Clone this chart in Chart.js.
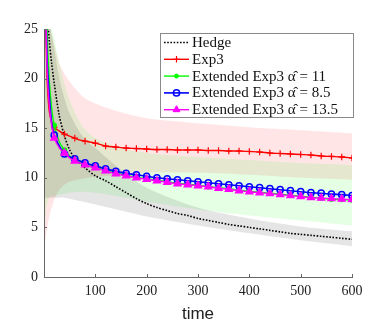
<!DOCTYPE html>
<html>
<head>
<meta charset="utf-8">
<script src="https://cdn.jsdelivr.net/npm/chart.js@4.4.1/dist/chart.umd.min.js"></script>
<style>
  html, body { margin: 0; padding: 0; background: #fff; }
  #wrap { width: 383px; height: 333px; }
</style>
</head>
<body>
<div id="wrap"><canvas id="regretChart" width="383" height="333"></canvas></div>
<script>
// time grid for the mean curves (markers every 20 steps)
const times = [1, 3, 6, 10, 15, 20, 30, 40, 50, 60, 70, 80, 100, 120, 140, 160, 180, 200, 220, 240,
  260, 280, 300, 320, 340, 360, 380, 400, 420, 440, 460, 480, 500, 520, 540, 560, 580, 600];

const hedgeMean = [50, 34, 27, 24, 21.5, 19.5, 16.2, 14.2, 12.8, 12.0, 11.5, 11.0, 10.2, 9.7, 9.1, 8.5, 7.9, 7.4, 7.0, 6.7,
  6.4, 6.2, 5.9, 5.7, 5.5, 5.3, 5.15, 5.0, 4.85, 4.7, 4.55, 4.4, 4.3, 4.2, 4.1, 4.0, 3.9, 3.8];
const exp3Mean = [40, 28, 20, 16.8, 15.6, 15.1, 14.7, 14.4, 14.2, 14.0, 13.8, 13.7, 13.5, 13.2, 13.1, 13.0, 12.95, 12.9, 12.85, 12.85,
  12.8, 12.8, 12.8, 12.75, 12.75, 12.7, 12.7, 12.65, 12.6, 12.5, 12.45, 12.4, 12.35, 12.3, 12.2, 12.15, 12.1, 12.0];
const ext11Mean = [50, 34, 25, 20, 17, 15.3, 13.6, 12.8, 12.2, 11.8, 11.55, 11.35, 11.05, 10.75, 10.45, 10.25, 10.05, 9.9, 9.75, 9.6,
  9.45, 9.35, 9.25, 9.1, 9.0, 8.9, 8.75, 8.65, 8.55, 8.45, 8.35, 8.25, 8.15, 8.05, 7.95, 7.85, 7.8, 7.75];
const ext85Mean = [45, 30, 22, 18.5, 15.5, 14.3, 13.2, 12.4, 12.1, 11.9, 11.7, 11.5, 11.2, 10.9, 10.65, 10.45, 10.3, 10.15, 10.0, 9.9,
  9.8, 9.7, 9.6, 9.5, 9.4, 9.3, 9.2, 9.1, 9.0, 8.9, 8.8, 8.7, 8.6, 8.5, 8.45, 8.35, 8.3, 8.2];
const ext135Mean = [45, 30, 21, 17.5, 15.2, 14.0, 13.0, 12.5, 12.0, 11.7, 11.5, 11.3, 11.0, 10.7, 10.4, 10.2, 10.0, 9.85, 9.7, 9.55,
  9.4, 9.3, 9.2, 9.1, 8.95, 8.85, 8.7, 8.6, 8.5, 8.4, 8.3, 8.2, 8.1, 8.0, 7.95, 7.9, 7.85, 7.8];

// time grid for the shaded spread bands
const bandTimes = [1, 5, 10, 20, 30, 40, 50, 75, 100, 150, 200, 300, 400, 500, 600];
const exp3Upper  = [30, 27, 25.5, 23.5, 21.5, 20.5, 19.7, 18.2, 17.5, 16.6, 16.0, 15.5, 15.1, 14.8, 14.5];
const exp3Lower  = [3, 4.5, 6.0, 7.8, 8.8, 9.3, 9.6, 9.9, 10.1, 10.3, 10.5, 10.5, 10.3, 10.0, 9.8];
const extUpper   = [30, 28, 26, 24, 21.5, 19.5, 17.8, 15.2, 14.0, 13.0, 12.5, 12.1, 11.8, 11.5, 11.3];
const extLower   = [5, 7, 8, 8.2, 8.3, 8.4, 8.5, 8.6, 8.5, 8.1, 7.6, 6.8, 6.2, 5.7, 5.2];
const hedgeUpper = [30, 28, 26, 23, 20, 18, 16.5, 14.2, 13.0, 10.8, 9.0, 7.0, 5.9, 5.1, 4.6];
const hedgeLower = [8, 8, 8, 8, 8, 8.0, 7.9, 7.6, 7.3, 6.7, 6.1, 5.2, 4.4, 3.7, 3.1];

const xTicks = [100, 200, 300, 400, 500, 600];
const legendLabels = ['Hedge', 'Exp3', 'Extended Exp3 \u03B1\u0302 = 11', 'Extended Exp3 \u03B1\u0302 = 8.5', 'Extended Exp3 \u03B1\u0302 = 13.5'];

const serif = '"Liberation Serif", "DejaVu Serif", serif';

function pts(xs, ys) {
  return xs.map((x, i) => ({ x: x, y: ys[i] }));
}

// marker only on every 20th step
function markerEvery(r) {
  return ctx => (times[ctx.dataIndex] % 20 === 0 ? r : 0);
}

function band(xs, up, lo, color) {
  return [
    { data: pts(xs, up), borderWidth: 0, pointRadius: 0, fill: '+1', backgroundColor: color, order: 10 },
    { data: pts(xs, lo), borderWidth: 0, pointRadius: 0, fill: false, order: 10 }
  ];
}

const lineSets = [
  { label: legendLabels[0], data: pts(times, hedgeMean), borderColor: '#000', borderWidth: 1.6, borderDash: [1.6, 1.6],
    pointRadius: 0, fill: false, order: 5 },
  { label: legendLabels[1], data: pts(times, exp3Mean), borderColor: '#ff0000', borderWidth: 1.4,
    pointStyle: 'cross', pointRadius: markerEvery(3.3), pointBorderColor: '#ff0000', pointBorderWidth: 1.2, fill: false, order: 4 },
  { label: legendLabels[2], data: pts(times, ext11Mean), borderColor: '#00ff00', borderWidth: 1.4,
    pointStyle: 'circle', pointRadius: markerEvery(2), pointBackgroundColor: '#00ff00', pointBorderColor: '#00ff00', fill: false, order: 3 },
  { label: legendLabels[3], data: pts(times, ext85Mean), borderColor: '#0000ff', borderWidth: 1.6,
    pointStyle: 'circle', pointRadius: markerEvery(3.1), pointBackgroundColor: 'rgba(0,0,0,0)', pointBorderColor: '#0000ff', pointBorderWidth: 1.5, fill: false, order: 2 },
  { label: legendLabels[4], data: pts(times, ext135Mean), borderColor: '#ff00ff', borderWidth: 1.4,
    pointStyle: 'triangle', pointRadius: markerEvery(4), pointBackgroundColor: '#ff00ff', pointBorderColor: '#ff00ff', fill: false, order: 1 }
];

const datasets = [].concat(
  band(bandTimes, hedgeUpper, hedgeLower, 'rgba(0,0,0,0.1)'),
  band(bandTimes, extUpper, extLower, 'rgba(0,255,0,0.1)'),
  band(bandTimes, exp3Upper, exp3Lower, 'rgba(255,0,0,0.1)'),
  lineSets
);

// legend box drawn inside the plot, top right
const boxLegend = {
  id: 'boxLegend',
  afterDatasetsDraw(chart) {
    const ctx = chart.ctx;
    const x0 = 160.5, y0 = 33.5, w = 193, h = 84;
    ctx.save();
    ctx.fillStyle = '#fff';
    ctx.fillRect(x0, y0, w, h);
    ctx.strokeStyle = '#8a8a8a';
    ctx.lineWidth = 1;
    ctx.strokeRect(x0, y0, w, h);
    // size the text so the longest entry fills the box like the original
    ctx.font = '15px ' + serif;
    const longest = ctx.measureText(legendLabels[4]).width;
    const size = Math.min(16.5, 15 * 146 / longest);
    ctx.font = size.toFixed(2) + 'px ' + serif;
    ctx.textBaseline = 'middle';
    ctx.fillStyle = '#111';
    lineSets.forEach((ds, i) => {
      const y = 42.5 + i * 16.8;
      ctx.save();
      ctx.strokeStyle = ds.borderColor;
      ctx.lineWidth = ds.borderWidth;
      ctx.setLineDash(ds.borderDash || []);
      ctx.beginPath();
      ctx.moveTo(164, y);
      ctx.lineTo(189, y);
      ctx.stroke();
      ctx.restore();
      const r = typeof ds.pointRadius === 'function' ? ds.pointRadius({ dataIndex: 5 }) : 0;
      if (r > 0) {
        ctx.save();
        ctx.strokeStyle = ds.pointBorderColor;
        ctx.fillStyle = ds.pointBackgroundColor || ds.pointBorderColor;
        ctx.lineWidth = ds.pointBorderWidth || 1;
        Chart.helpers.drawPoint(ctx, { pointStyle: ds.pointStyle, radius: r, borderWidth: ds.pointBorderWidth || 1, rotation: 0 }, 176.5, y);
        ctx.restore();
      }
      ctx.fillText(legendLabels[i], 192, y + 0.5);
    });
    ctx.restore();
  }
};

// short inward tick marks, as in the original figure
const innerTicks = {
  id: 'innerTicks',
  afterDraw(chart) {
    const ctx = chart.ctx;
    const xs = chart.scales.x, ys = chart.scales.y;
    const a = chart.chartArea;
    ctx.save();
    ctx.strokeStyle = '#666';
    ctx.lineWidth = 1;
    ctx.beginPath();
    xTicks.forEach(v => {
      const px = Math.round(xs.getPixelForValue(v)) + 0.5;
      ctx.moveTo(px, a.bottom);
      ctx.lineTo(px, a.bottom - 3);
    });
    [5, 10, 15, 20, 25].forEach(v => {
      const py = Math.round(ys.getPixelForValue(v)) + 0.5;
      ctx.moveTo(a.left, py);
      ctx.lineTo(a.left + 3, py);
    });
    ctx.stroke();
    ctx.restore();
  }
};

const chartCanvas = document.getElementById('regretChart');
const myChart = new Chart(chartCanvas.getContext('2d'), {
  type: 'line',
  data: { datasets: datasets },
  options: {
    responsive: false,
    animation: false,
    devicePixelRatio: 1,
    layout: { padding: { left: 0, top: 29, right: 31, bottom: 0 } },
    elements: { line: { tension: 0.3 } },
    plugins: {
      legend: { display: false },
      tooltip: { enabled: false }
    },
    scales: {
      x: {
        type: 'linear',
        min: 0,
        max: 600,
        afterBuildTicks: s => { s.ticks = xTicks.map(v => ({ value: v })); },
        afterFit: s => { s.height = 56; },
        grid: { display: false, drawTicks: false },
        border: { display: true, color: '#666', width: 1 },
        ticks: { font: { family: serif, size: 14 }, color: '#222', padding: 6, maxRotation: 0 },
        title: { display: true, text: 'time', font: { family: '"Liberation Sans", Arial, sans-serif', size: 17 }, color: '#222', padding: { top: 0, bottom: 8 } }
      },
      y: {
        min: 0,
        max: 25,
        afterFit: s => { s.width = 44; },
        grid: { display: false, drawTicks: false },
        border: { display: true, color: '#666', width: 1 },
        ticks: { stepSize: 5, font: { family: serif, size: 14 }, color: '#222', padding: 6 }
      }
    }
  },
  plugins: [boxLegend, innerTicks]
});
</script>
</body>
</html>
